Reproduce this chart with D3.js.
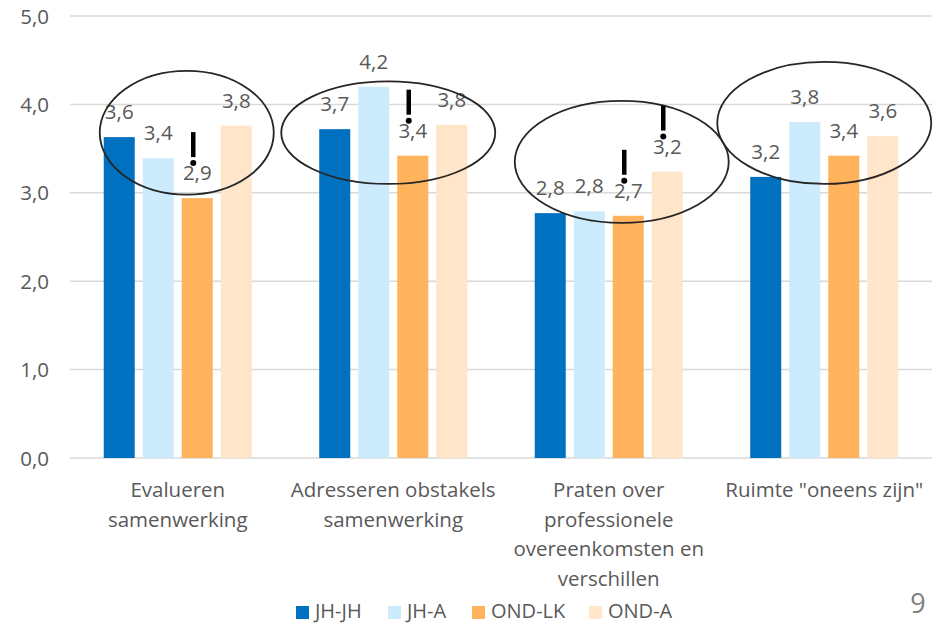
<!DOCTYPE html>
<html>
<head>
<meta charset="utf-8">
<script src="https://cdn.jsdelivr.net/npm/d3@7"></script>
<style>
  body { margin: 0; background: #fff; }
  text { font-family: "Open Sans", sans-serif; fill: #595959; }
</style>
</head>
<body>
<div id="chart"></div>
<script>
// data
var categories = [
  ["Evalueren", "samenwerking"],
  ["Adresseren obstakels", "samenwerking"],
  ["Praten over", "professionele", "overeenkomsten en", "verschillen"],
  ["Ruimte \"oneens zijn\""]
]
var series = ["JH-JH", "JH-A", "OND-LK", "OND-A"]
var jhJh  = [3.63, 3.72, 2.77, 3.18]
var jhA   = [3.39, 4.20, 2.79, 3.80]
var ondLk = [2.94, 3.42, 2.74, 3.42]
var ondA  = [3.76, 3.77, 3.24, 3.64]
var yTicks = [0, 1, 2, 3, 4, 5]

// annotations: [group, series] with an exclamation mark
var flags = [[0, 2], [1, 2], [2, 2], [2, 3]]
// ellipse per group: centre value, half height in value units
var ellipseCy = [3.68, 3.68, 3.35, 3.79]
var ellipseRy = [0.70, 0.58, 0.69, 0.69]
var ellipseDx = [9, -5, 13, 0]
var ellipseRx = [87, 107, 107, 107]

var values = [jhJh, jhA, ondLk, ondA]
var colors = ["#0070C0", "#CCEBFC", "#FFB35C", "#FFE5C9"]

var width = 936, height = 623
  , plotLeft = 70, plotRight = 932, plotTop = 16, plotBottom = 458
  , fontSize = 20.5

var svg = d3.select("#chart").append("svg")
  .attr("width", width)
  .attr("height", height)

var x0 = d3.scaleBand()
  .domain(d3.range(categories.length))
  .range([plotLeft, plotRight])

var x1 = d3.scaleBand()
  .domain(d3.range(series.length))
  .range([0, x0.bandwidth()])
  .paddingInner(0.205)
  .paddingOuter(0.865)

var y = d3.scaleLinear()
  .domain([0, 5])
  .range([plotBottom, plotTop])

var fmt = function(v) { return d3.format(".1f")(v).replace(".", ",") }

// grid
svg.append("g")
  .selectAll("line")
  .data(yTicks)
  .join("line")
    .attr("x1", plotLeft)
    .attr("x2", plotRight)
    .attr("y1", function(d) { return y(d) })
    .attr("y2", function(d) { return y(d) })
    .attr("stroke", "#D9D9D9")
    .attr("stroke-width", 1.5)

var yAxis = svg.append("g")
  .attr("transform", "translate(49,0)")
  .call(d3.axisLeft(y).tickValues(yTicks).tickFormat(fmt).tickSize(0).tickPadding(0))
yAxis.select(".domain").remove()
yAxis.selectAll("text")
  .attr("font-size", fontSize)
  .attr("font-family", "Open Sans")
  .attr("fill", "#595959")
  .attr("dy", "0.35em")

// bars
var groups = svg.append("g")
  .selectAll("g")
  .data(categories)
  .join("g")
    .attr("transform", function(d, i) { return "translate(" + x0(i) + ",0)" })

groups.each(function(cat, gi) {
  var g = d3.select(this)
  series.forEach(function(s, si) {
    var v = values[si][gi]
    g.append("rect")
      .attr("x", x1(si))
      .attr("width", x1.bandwidth())
      .attr("y", y(v))
      .attr("height", y(0) - y(v))
      .attr("fill", colors[si])
    g.append("text")
      .attr("x", x1(si) + x1.bandwidth() / 2)
      .attr("y", y(v) - 18)
      .attr("text-anchor", "middle")
      .attr("font-size", fontSize)
      .text(fmt(v))
  })
  var lbl = g.append("text")
    .attr("x", x0.bandwidth() / 2)
    .attr("y", 497)
    .attr("text-anchor", "middle")
    .attr("font-size", fontSize)
  cat.forEach(function(line, li) {
    lbl.append("tspan")
      .attr("x", x0.bandwidth() / 2)
      .attr("dy", li == 0 ? 0 : 29.5)
      .text(line)
  })
})

// ellipses
svg.append("g")
  .selectAll("ellipse")
  .data(categories)
  .join("ellipse")
    .attr("cx", function(d, i) { return x0(i) + x0.bandwidth() / 2 + ellipseDx[i] })
    .attr("cy", function(d, i) { return y(ellipseCy[i]) })
    .attr("rx", function(d, i) { return ellipseRx[i] })
    .attr("ry", function(d, i) { return y(0) - y(ellipseRy[i]) })
    .attr("fill", "none")
    .attr("stroke", "#262626")
    .attr("stroke-width", 1.8)

// exclamation marks
var marks = svg.append("g")
flags.forEach(function(f) {
  var cx = x0(f[0]) + x1(f[1]) + x1.bandwidth() / 2 - 4
    , dotY = y(values[f[1]][f[0]]) - 35
  marks.append("line")
    .attr("x1", cx).attr("x2", cx)
    .attr("y1", dotY - 31).attr("y2", dotY - 6)
    .attr("stroke", "#000")
    .attr("stroke-width", 4.5)
  marks.append("circle")
    .attr("cx", cx)
    .attr("cy", dotY)
    .attr("r", 3)
    .attr("fill", "#000")
})

// legend
var legendX = [296, 388, 472, 589]
var legend = svg.append("g")
series.forEach(function(s, i) {
  legend.append("rect")
    .attr("x", legendX[i])
    .attr("y", 606)
    .attr("width", 13)
    .attr("height", 13)
    .attr("fill", colors[i])
  legend.append("text")
    .attr("x", legendX[i] + 19)
    .attr("y", 618)
    .attr("font-size", 20)
    .text(s)
})

// page number
svg.append("text")
  .attr("x", 918)
  .attr("y", 613)
  .attr("text-anchor", "middle")
  .attr("font-size", 27)
  .style("fill", "#7F7F7F")
  .text("9")
</script>
</body>
</html>
